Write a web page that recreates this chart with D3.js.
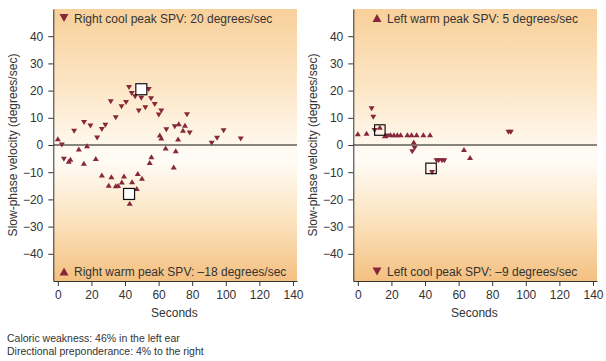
<!DOCTYPE html>
<html>
<head>
<meta charset="utf-8">
<script src="https://cdn.jsdelivr.net/npm/d3@7"></script>
<style>
  body { margin: 0; background: #fff; }
  svg { display: block; font-family: "Liberation Sans", Arial, sans-serif; }
  .axis text { font-size: 12px; fill: #333; }
  .axis path, .axis line { stroke: #333; }
</style>
</head>
<body>
<script>
// data: [seconds, slow-phase velocity]
const xTicks = [0, 20, 40, 60, 80, 100, 120, 140];
const yTicks = [-40, -30, -20, -10, 0, 10, 20, 30, 40];

const rightCool = [
    [2.4, 0], [3.6, -5.2], [9.7, 5.1], [15.6, 8.3], [19.4, 7], [23.4, 2.6],
    [26.2, 5.7], [28.3, 7.3], [31.5, 15.9], [34.5, 10], [37.9, 14.1], [40.6, 15.6],
    [42.4, 21.1], [44, 18.9], [46, 17.7], [48.2, 12.5], [49.7, 17.2], [52.1, 13.7],
    [54.1, 20.4], [55.5, 17], [57.7, 14.9], [60.1, 11], [61.6, 12.5], [64.6, 5.6],
    [69.6, 6.7], [76.9, 11.1], [78.5, 4.4], [91.6, 0.6], [94.8, 2.5], [98.7, 5.2],
    [108.9, 2.2]
];
const rightWarm = [
    [0, 2.3], [6.5, -6], [7.5, -5.2], [12.5, -1.5], [15.5, -6.7], [17.4, -0.3],
    [22.6, -5], [26.2, -11], [31.9, -11.7], [30.3, -14.8], [34.5, -15], [35.9, -14.9],
    [38.1, -13.6], [39.4, -11.4], [44.2, -13.5], [42.8, -21.4], [47, -16], [47.6, -10.5],
    [50.1, -12.2], [55.7, -4.3], [54.7, -6.4], [60.7, 3.7], [61.6, 2.6], [64.2, -1.1],
    [69, -8.1], [70.2, -2.1], [71.6, 2.2], [72, 7.8], [74.5, 5.4], [75.7, 7.3]
];
const leftCool = [
    [8.2, 13.3], [9.2, 10.2], [10, 5.3], [17.5, 3.3], [33.8, -1.2], [32.4, -2.5],
    [44.2, -10.1], [46.9, -5.8], [48.1, -5.8], [50.1, -5.8], [51.5, -5.8],
    [89.7, 4.7], [91.1, 4.7]
];
const leftWarm = [
    [0, 4.1], [5.2, 4.3], [13.1, 6.5], [16.1, 3.4], [19.5, 3.8], [21.5, 3.8],
    [23.5, 3.8], [25.5, 3.8], [29.5, 3.8], [32, 3.8], [35, 3.8], [39, 3.8], [43, 3.8],
    [33.3, 1.1], [63.2, -1.7], [66.8, -4.6]
];

// peak markers (boxes)
const rightPeaks = [[49.7, 20.5], [42.4, -18]];
const leftPeaks = [[13.1, 5.5], [43.6, -8.6]];

const rightLegend = [
    { dir: 'down', text: 'Right cool peak SPV: 20 degrees/sec', pos: 'top' },
    { dir: 'up', text: 'Right warm peak SPV: \u201318 degrees/sec', pos: 'bottom' }
];
const leftLegend = [
    { dir: 'up', text: 'Left warm peak SPV: 5 degrees/sec', pos: 'top' },
    { dir: 'down', text: 'Left cool peak SPV: \u20139 degrees/sec', pos: 'bottom' }
];

const notes = [
    'Caloric weakness: 46% in the left ear',
    'Directional preponderance: 4% to the right'
];

const markColor = '#862839';

function triPath(dir, w, h) {
    if (dir === 'down') return `M${-w / 2},${-h / 2}L${w / 2},${-h / 2}L0,${h / 2}Z`;
    return `M${-w / 2},${h / 2}L${w / 2},${h / 2}L0,${-h / 2}Z`;
}

function drawPanel(svg, opt) {
    const left = opt.left, right = opt.right, top = 9, bottom = 281;

    const scaleX = d3.scaleLinear().domain([-2.7, 142.4]).range([left, right]);
    const scaleY = d3.scaleLinear().domain([-50, 50]).range([bottom, top]);

    const g = svg.append('g');

    // background
    g.append('rect')
        .attr('x', left).attr('y', top)
        .attr('width', right - left).attr('height', bottom - top)
        .attr('fill', 'url(#bg)');

    // zero line
    g.append('line')
        .attr('x1', left).attr('x2', right)
        .attr('y1', scaleY(0)).attr('y2', scaleY(0))
        .attr('stroke', '#111').attr('stroke-width', 1);

    // axes
    g.append('g')
        .attr('class', 'axis')
        .attr('transform', `translate(0, ${bottom})`)
        .call(d3.axisBottom(scaleX).tickValues(xTicks).tickSize(5).tickPadding(4).tickSizeOuter(0));

    g.append('g')
        .attr('class', 'axis')
        .attr('transform', `translate(${left}, 0)`)
        .call(d3.axisLeft(scaleY).tickValues(yTicks).tickSize(5).tickPadding(5).tickSizeOuter(0)
            .tickFormat(d => d < 0 ? '\u2212' + Math.abs(d) : d));

    // axis labels
    g.append('text')
        .attr('transform', `translate(${opt.yLabelX}, ${(top + bottom) / 2}) rotate(-90)`)
        .attr('text-anchor', 'middle')
        .attr('font-size', '12px').attr('fill', '#333')
        .text('Slow-phase velocity (degrees/sec)');

    g.append('text')
        .attr('x', (scaleX(0) + scaleX(140)) / 2 - 1)
        .attr('y', 317)
        .attr('text-anchor', 'middle')
        .attr('font-size', '12px').attr('fill', '#333')
        .text('Seconds');

    // points
    const series = [
        { data: opt.cool, dir: 'down' },
        { data: opt.warm, dir: 'up' }
    ];
    series.forEach(s => {
        g.selectAll(null)
            .data(s.data)
            .enter()
            .append('path')
            .attr('d', triPath(s.dir, 6, 5))
            .attr('transform', d => `translate(${scaleX(d[0])}, ${scaleY(d[1])})`)
            .attr('fill', markColor);
    });

    // peak boxes
    g.selectAll(null)
        .data(opt.peaks)
        .enter()
        .append('rect')
        .attr('x', d => scaleX(d[0]) - opt.box / 2)
        .attr('y', d => scaleY(d[1]) - opt.box / 2)
        .attr('width', opt.box).attr('height', opt.box)
        .attr('fill', opt.boxFill)
        .attr('stroke', '#111').attr('stroke-width', 1.2);

    // legend texts
    opt.legend.forEach(l => {
        const y = l.pos === 'top' ? 18 : 271.5;
        g.append('path')
            .attr('d', triPath(l.dir, 9, 8))
            .attr('transform', `translate(${opt.legX}, ${y})`)
            .attr('fill', markColor);
        g.append('text')
            .attr('x', opt.legX + 10).attr('y', y + 4.5)
            .attr('font-size', '12px').attr('fill', '#333')
            .text(l.text);
    });
}

function renderSVG() {
    const width = 606;
    const height = 361;

    const svg = d3.select('body')
        .append('svg')
        .attr('width', width)
        .attr('height', height);

    const defs = svg.append('defs');
    const grad = defs.append('linearGradient')
        .attr('id', 'bg')
        .attr('x1', 0).attr('y1', 0).attr('x2', 0).attr('y2', 1);
    grad.append('stop').attr('offset', '0%').attr('stop-color', '#f8d09a');
    grad.append('stop').attr('offset', '30%').attr('stop-color', '#fde7c8');
    grad.append('stop').attr('offset', '55%').attr('stop-color', '#fffcf7');
    grad.append('stop').attr('offset', '80%').attr('stop-color', '#fbe0b9');
    grad.append('stop').attr('offset', '100%').attr('stop-color', '#f4c080');

    drawPanel(svg, {
        left: 53.3, right: 297, yLabelX: 17,
        cool: rightCool, warm: rightWarm, peaks: rightPeaks,
        legend: rightLegend, legX: 64, box: 11, boxFill: '#fff'
    });

    drawPanel(svg, {
        left: 353.3, right: 597, yLabelX: 317,
        cool: leftCool, warm: leftWarm, peaks: leftPeaks,
        legend: leftLegend, legX: 377, box: 10.5, boxFill: 'none'
    });

    svg.selectAll('text.note')
        .data(notes)
        .enter()
        .append('text')
        .attr('class', 'note')
        .attr('x', 7)
        .attr('y', (d, i) => 342 + i * 13)
        .attr('font-size', '10.5px')
        .attr('fill', '#333')
        .text(d => d);
}

window.addEventListener('load', function() {
    requestAnimationFrame(renderSVG);
});
</script>
</body>
</html>
